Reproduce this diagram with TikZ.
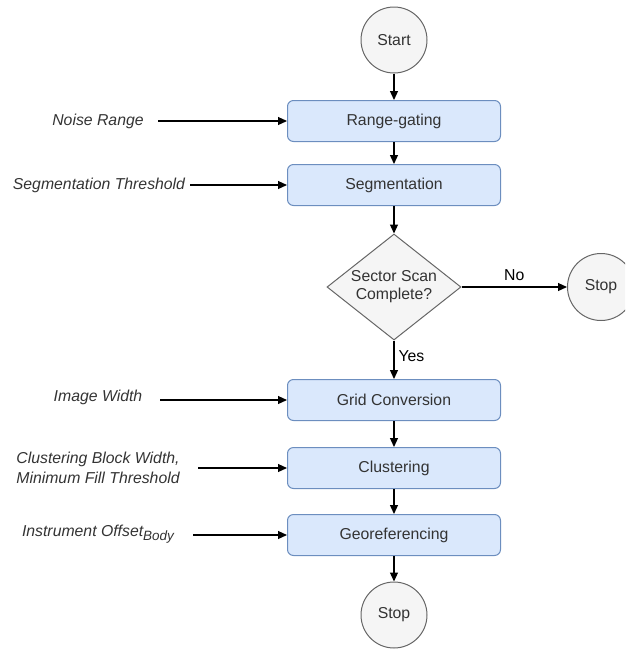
\documentclass[tikz,border=0pt]{standalone}
\usepackage{fontspec}
\setmainfont{Liberation Sans}
\usetikzlibrary{shapes.geometric,arrows.meta}
\definecolor{boxfill}{HTML}{DAE8FC}
\definecolor{boxline}{HTML}{6C8EBF}
\definecolor{grayfill}{HTML}{F5F5F5}
\definecolor{grayline}{HTML}{666666}
\definecolor{txt}{HTML}{333333}
\begin{document}
\begin{tikzpicture}[x=1pt,y=-1pt,
  font=\fontsize{15.8}{18}\selectfont,
  procbox/.style={draw=boxline,fill=boxfill,rounded corners=6pt,line width=1pt,minimum width=213pt,minimum height=41pt,inner sep=0pt,text=txt},
  term/.style={circle,draw=grayline,fill=grayfill,line width=1pt,minimum size=66pt,inner sep=0pt,text=txt},
  decis/.style={diamond,aspect=1.26,draw=grayline,fill=grayfill,line width=1pt,minimum width=134pt,minimum height=106pt,inner sep=0pt,text=txt,align=center},
  param/.style={inner sep=0pt,text=txt,font=\fontsize{15.8}{20}\selectfont\itshape,align=center},
  flow/.style={line width=1.2pt,-{Triangle[length=9pt,width=8pt]}},
  lbl/.style={inner sep=0pt,text=black}
]
\useasboundingbox (0,0) rectangle (625,649);
\begin{scope}
\clip (0,0) rectangle (625,649);
\node[term] (start) at (394,40) {Start};
\node[procbox] (rg) at (394,121) {Range-gating};
\node[procbox] (seg) at (394,185) {Segmentation};
\node[decis] (dia) at (394,287) {Sector Scan\\Complete?};
\node[term,minimum size=67pt] (stopa) at (601,287) {Stop};
\node[procbox] (grid) at (394,400) {Grid Conversion};
\node[procbox] (clus) at (394,468) {Clustering};
\node[procbox] (geo) at (394,535) {Georeferencing};
\node[term] (stopb) at (394,615) {Stop};

\node[param] (p1) at (98,121) {Noise Range};
\node[param] (p2) at (99,185) {Segmentation Threshold};
\node[param] (p3) at (98,397) {Image Width};
\node[param] (p4) at (98,468) {Clustering Block Width,\\Minimum Fill Threshold};
\node[param] (p5) at (98,534) {Instrument Offset\raisebox{-4pt}{\fontsize{13.5}{14}\selectfont Body}};

\coordinate (c1) at (158,121);
\coordinate (c2) at (190,185);
\coordinate (c3) at (160,400);
\coordinate (c4) at (198,468);
\coordinate (c5) at (193,535);

\draw[flow] (start) -- (rg);
\draw[flow] (rg) -- (seg);
\draw[flow] (seg) -- (dia);
\draw[flow] (dia) -- (stopa) node[lbl,pos=0.5,above=6pt] (no) {No};
\draw[flow] (dia) -- (grid) node[lbl,pos=0.4,right=4pt] (yes) {Yes};
\draw[flow] (grid) -- (clus);
\draw[flow] (clus) -- (geo);
\draw[flow] (geo) -- (stopb);

\draw[flow] (c1) -- (rg.west);
\draw[flow] (c2) -- (seg.west);
\draw[flow] (c3) -- (grid.west);
\draw[flow] (c4) -- (clus.west);
\draw[flow] (c5) -- (geo.west);
\end{scope}
\end{tikzpicture}
\end{document}
